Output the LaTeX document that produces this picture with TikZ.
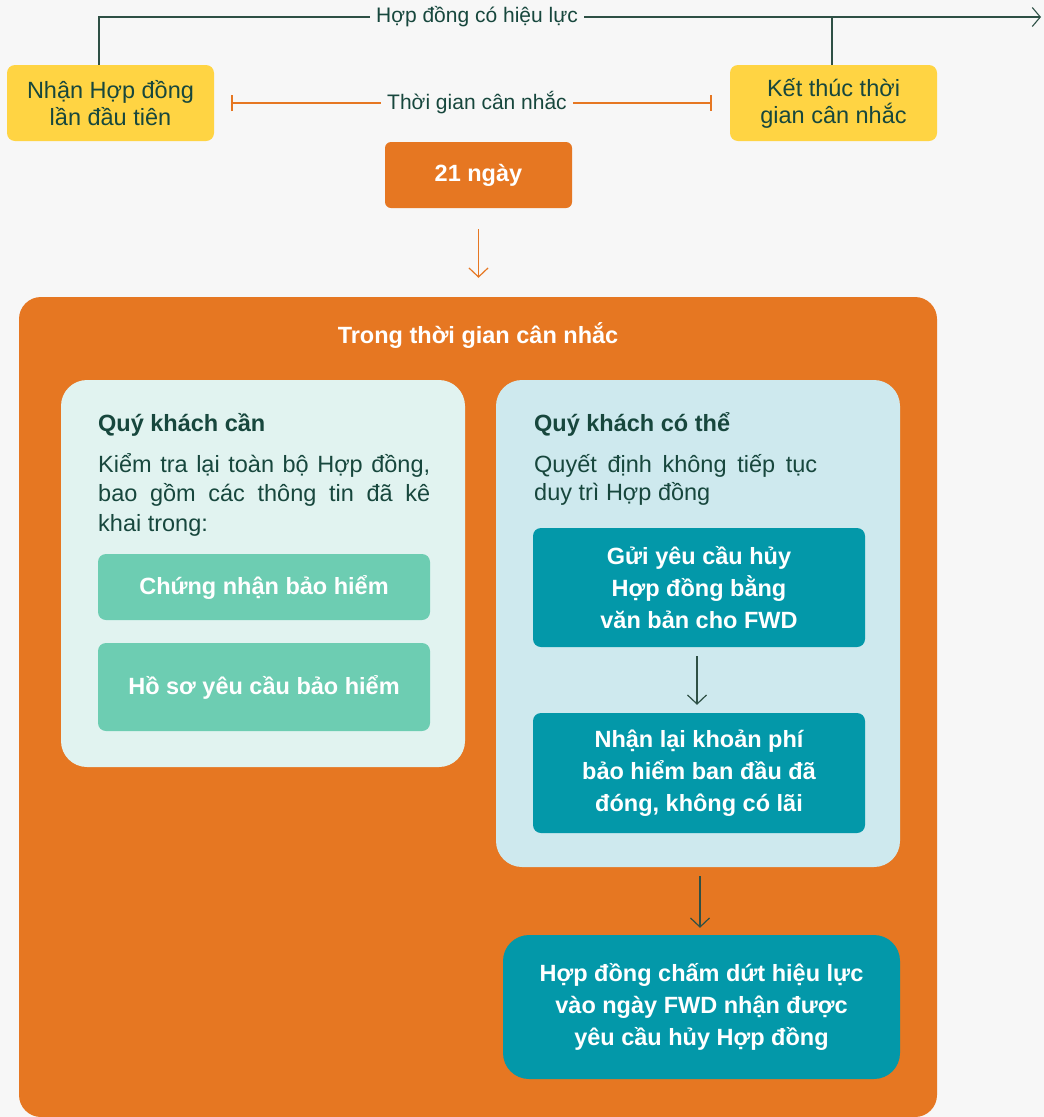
\documentclass[tikz,border=0pt]{standalone}
\usepackage{fontspec}
\setmainfont{Liberation Sans}
\usetikzlibrary{arrows.meta}
\definecolor{bg}{HTML}{F7F7F7}
\definecolor{yel}{HTML}{FFD443}
\definecolor{org}{HTML}{E67722}
\definecolor{lpan}{HTML}{E1F3F0}
\definecolor{rpan}{HTML}{CEE9EE}
\definecolor{grn}{HTML}{6DCDB2}
\definecolor{teal}{HTML}{0398A9}
\definecolor{dtext}{HTML}{17473D}
\definecolor{dline}{HTML}{2E5045}
\begin{document}
\begin{tikzpicture}[x=1pt,y=-1pt,
  box/.style={rounded corners=8pt, inner sep=0pt, align=center},
  ybox/.style={box, fill=yel, text=dtext, minimum width=207pt, minimum height=76pt, font=\fontsize{23.5}{27}\selectfont},
  wbold/.style={text=white, font=\fontsize{23.5}{32}\selectfont\bfseries},
  tbox/.style={box, fill=teal, wbold, minimum width=332pt},
  gbox/.style={box, fill=grn, wbold, minimum width=332pt},
  panel/.style={rounded corners=26pt, inner sep=0pt, minimum width=404pt},
  lbl/.style={fill=bg, inner xsep=6pt, inner ysep=2pt, text=dtext, font=\fontsize{21}{24}\selectfont},
  head/.style={text=dtext, inner sep=0pt, font=\fontsize{23.5}{28}\selectfont\bfseries},
  para/.style={text=dtext, inner sep=0pt, align=left},
  arr/.style={line width=1.2pt, -{Straight Barb[length=9pt,width=19pt]}}
]
\useasboundingbox[fill=bg] (0,0) rectangle (1044,1117);

% top row
\node[ybox] (ly) at (110.5,103) {Nhận Hợp đồng\\lần đầu tiên};
\node[ybox] (ry) at (833.5,103) {Kết thúc thời\\gian cân nhắc};
\node[box, fill=org, rounded corners=6pt, wbold, minimum width=187pt, minimum height=66pt] (d21) at (478.5,175) {21 ngày};

\coordinate (tend) at (1041,17);
\draw[dline, line width=1.1pt, -{Straight Barb[length=8pt,width=19pt]}] ([xshift=-11.5pt]ly.north) |- (tend);
\draw[dline, line width=1.1pt] ([xshift=-1.5pt]ry.north) -- ([xshift=-1.5pt]ry.north |- tend);
\node[lbl] (tl) at (477,17) {Hợp đồng có hiệu lực};

\draw[org, line width=1.4pt, {Bar[width=16pt]}-{Bar[width=16pt]}] ([xshift=17pt]ly.east) -- ([xshift=-18pt]ry.west);
\node[lbl] (ml) at (477,103) {Thời gian cân nhắc};

% big box
\node[fill=org, rounded corners=22pt, minimum width=918pt, minimum height=820pt, inner sep=0pt] (big) at (478,707) {};
\draw[org, arr] ([yshift=-21pt]d21.south) -- ([yshift=19pt]d21.south |- big.north);
\node[text=white, font=\fontsize{23.5}{28}\selectfont\bfseries] (title) at (478,336) {Trong thời gian cân nhắc};

% left panel
\node[panel, fill=lpan, minimum height=387pt] (lp) at (263,573.5) {};
\node[head, anchor=base west] (lh) at (98,431) {Quý khách cần};
\node[para, anchor=base west, font=\fontsize{23.5}{29.5}\selectfont] (lt) at (98,531)
  {\makebox[332pt][s]{Kiểm tra lại toàn bộ Hợp đồng,}\\
   \makebox[332pt][s]{bao gồm các thông tin đã kê}\\
   khai trong:};
\node[gbox, minimum height=66pt] (g1) at (264,587) {Chứng nhận bảo hiểm};
\node[gbox, minimum height=88pt] (g2) at (264,687) {Hồ sơ yêu cầu bảo hiểm};

% right panel
\node[panel, fill=rpan, minimum height=487pt] (rp) at (698,623.5) {};
\node[head, anchor=base west] (rh) at (534,431) {Quý khách có thể};
\node[para, anchor=base west, font=\fontsize{23.5}{28.5}\selectfont] (rt) at (534,500.5)
  {\makebox[283pt][s]{Quyết định không tiếp tục}\\
   duy trì Hợp đồng};
\node[tbox, minimum height=119pt] (t1) at (699,587.5) {Gửi yêu cầu hủy\\Hợp đồng bằng\\văn bản cho FWD};
\node[tbox, minimum height=120pt] (t2) at (699,773) {Nhận lại khoản phí\\bảo hiểm ban đầu đã\\đóng, không có lãi};
\draw[dline, arr] ([xshift=-2pt,yshift=-9pt]t1.south) -- ([xshift=-2pt,yshift=8pt]t2.north);

% final box
\node[box, fill=teal, wbold, rounded corners=26pt, minimum width=397pt, minimum height=144pt] (t3) at (701.5,1007)
  {Hợp đồng chấm dứt hiệu lực\\vào ngày FWD nhận được\\yêu cầu hủy Hợp đồng};
\draw[dline, arr] ([xshift=2pt,yshift=-9pt]rp.south) -- ([xshift=2pt,yshift=7pt]rp.south |- t3.north);
\end{tikzpicture}
\end{document}
